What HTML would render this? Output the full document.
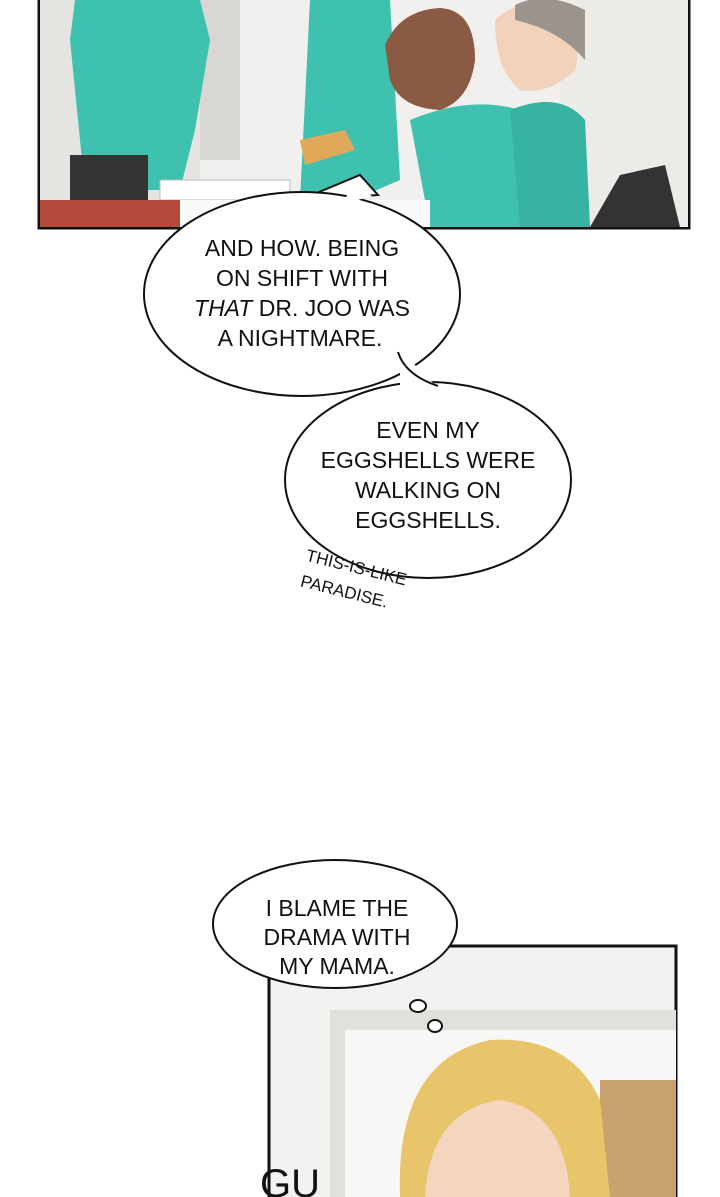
<!DOCTYPE html>
<html><head><meta charset="utf-8"><style>
body{margin:0;background:#fff;width:720px;height:1197px;overflow:hidden}
svg{display:block}
text{font-family:"Liberation Sans",sans-serif;font-size:23px;fill:#111;text-anchor:middle}
</style></head><body>
<svg width="720" height="1197" viewBox="0 0 720 1197">
<rect x="39" y="-3" width="650" height="231" fill="#f1f0ee" stroke="#111" stroke-width="3"/>
<rect x="40" y="0" width="160" height="200" fill="#e6e4e0"/>
<rect x="200" y="0" width="40" height="160" fill="#d9d7d3"/>
<rect x="560" y="0" width="128" height="227" fill="#ecebe8"/>
<path d="M75 0 L70 40 L85 190 L180 190 L195 130 L210 40 L200 0Z" fill="#3fc1b0"/>
<path d="M310 0 L300 200 L330 210 L400 180 L390 0Z" fill="#3fc1b0"/>
<path d="M410 120 Q470 95 520 110 L575 130 L590 227 L430 227 Z" fill="#3fc1b0"/>
<path d="M510 110 Q560 90 585 120 L590 227 L520 227 Z" fill="#36b3a3"/>
<path d="M385 45 Q400 10 440 8 Q475 10 475 60 Q470 100 440 110 Q400 108 390 80Z" fill="#8a5a44"/>
<path d="M495 20 Q520 -5 560 10 Q585 30 575 70 Q550 95 520 90 Q495 70 495 20Z" fill="#f3d2bb"/>
<path d="M515 5 Q545 -10 585 10 L585 60 Q560 30 515 20Z" fill="#9a948c"/>
<rect x="70" y="155" width="78" height="55" fill="#333"/>
<rect x="160" y="180" width="130" height="20" fill="#fff" stroke="#bbb"/>
<rect x="40" y="200" width="140" height="27" fill="#b44a3c"/>
<rect x="180" y="200" width="250" height="27" fill="#fafafa"/>
<path d="M620 175 L665 165 L680 227 L590 227Z" fill="#333"/>
<path d="M300 140 L345 130 L355 150 L305 165Z" fill="#e0a95a"/>
<path d="M360 175 L378 195 L300 200 Z" fill="#fff" stroke="#111" stroke-width="2"/>
<ellipse cx="302" cy="294" rx="158" ry="102" fill="#fff" stroke="#111" stroke-width="2"/>
<path d="M355 185 L372 196 L340 205Z" fill="#fff"/>
<ellipse cx="428" cy="480" rx="143" ry="98" fill="#fff" stroke="#111" stroke-width="2"/>
<path d="M400 350 Q420 370 440 390 L400 400Z" fill="#fff"/>
<path d="M398 352 Q405 375 438 386" fill="none" stroke="#111" stroke-width="2"/>
<text x="302" y="256">AND HOW. BEING</text>
<text x="302" y="286">ON SHIFT WITH</text>
<text x="302" y="316"><tspan font-style="italic">THAT</tspan> DR. JOO WAS</text>
<text x="300" y="346">A NIGHTMARE.</text>
<text x="428" y="438">EVEN MY</text>
<text x="428" y="468">EGGSHELLS WERE</text>
<text x="428" y="498">WALKING ON</text>
<text x="428" y="528">EGGSHELLS.</text>
<text x="355" y="573" style="font-size:17px" transform="rotate(14 355 573)">THIS-IS-LIKE</text>
<text x="343" y="597" style="font-size:17px" transform="rotate(14 343 597)">PARADISE.</text>
<rect x="269" y="946" width="407" height="260" fill="#f3f2f0" stroke="#111" stroke-width="3"/>
<rect x="330" y="1010" width="346" height="190" fill="#e2e0dc"/>
<rect x="345" y="1030" width="331" height="170" fill="#f7f7f5"/>
<rect x="600" y="1080" width="76" height="120" fill="#c9a36e"/>
<path d="M400 1197 Q395 1060 490 1040 Q570 1035 600 1100 L610 1197Z" fill="#e8c46a"/>
<path d="M425 1197 Q430 1110 500 1100 Q565 1110 570 1197Z" fill="#f3d6bd"/>
<ellipse cx="335" cy="924" rx="122" ry="64" fill="#fff" stroke="#111" stroke-width="2"/>
<ellipse cx="418" cy="1006" rx="8" ry="6" fill="#fff" stroke="#111" stroke-width="2"/>
<ellipse cx="435" cy="1026" rx="7" ry="6" fill="#fff" stroke="#111" stroke-width="2"/>
<text x="337" y="916">I BLAME THE</text>
<text x="337" y="945">DRAMA WITH</text>
<text x="337" y="974">MY MAMA.</text>
<text x="290" y="1197" style="font-size:40px">GU</text>
</svg>
</body></html>
